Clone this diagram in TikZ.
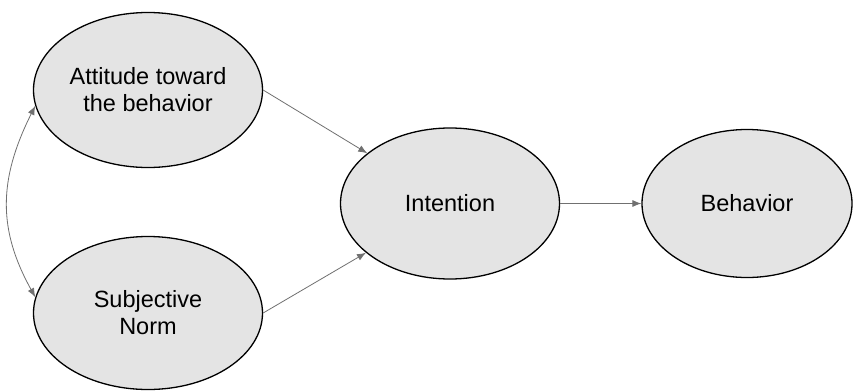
\documentclass[tikz,border=0pt]{standalone}
\usepackage{fontspec}
\setmainfont{Liberation Sans}
\usetikzlibrary{shapes.geometric,arrows.meta}
\definecolor{fillgray}{HTML}{E4E4E4}
\definecolor{linkgray}{HTML}{707070}
\begin{document}
\begin{tikzpicture}[x=1pt,y=-1pt,
  oval/.style={ellipse,draw=black,line width=1.3pt,fill=fillgray,inner sep=0pt,
    align=center,font=\fontsize{23.5}{27}\selectfont},
  link/.style={draw=linkgray,line width=0.8pt,-{Latex[length=9pt,width=7pt]}},
  blink/.style={draw=linkgray,line width=0.8pt,{Latex[length=9pt,width=7pt]}-{Latex[length=9pt,width=7pt]}}]
\useasboundingbox[fill=white] (0,0) rectangle (854,391);
\node[oval,minimum width=229pt,minimum height=155pt] (att) at (148,90) {Attitude toward\\the behavior};
\node[oval,minimum width=229pt,minimum height=153pt] (sub) at (148,313) {Subjective\\Norm};
\node[oval,minimum width=219pt,minimum height=151pt] (int) at (450,203.5) {Intention};
\node[oval,minimum width=210pt,minimum height=148pt] (beh) at (747,203.5) {Behavior};
\draw[link] (att.east) -- (int);
\draw[link] (sub.east) -- (int);
\draw[link] (int.east) -- (beh.west);
\draw[blink] (att.188) .. controls (-2,180) and (-2,230) .. (sub.172);
\end{tikzpicture}
\end{document}
